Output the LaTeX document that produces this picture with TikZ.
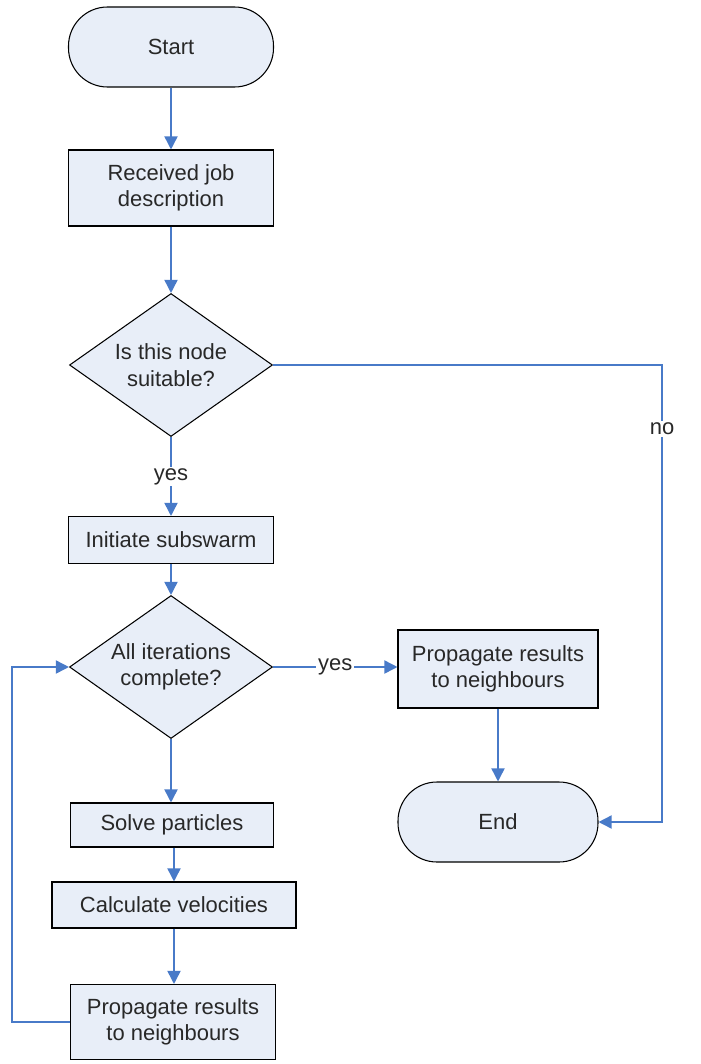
\documentclass[tikz,border=0pt]{standalone}
\usepackage{fontspec}
\setmainfont{Liberation Sans}
\usetikzlibrary{shapes.geometric,arrows.meta}

\definecolor{flowblue}{RGB}{72,122,200}
\definecolor{boxfill}{RGB}{232,238,248}
\definecolor{textgray}{RGB}{40,40,40}

\tikzset{
    base/.style={draw=black, line width=0.6pt, fill=boxfill, text=textgray,
        align=center, font=\fontsize{12.5}{15}\selectfont, inner sep=0pt},
    terminal/.style={base, rectangle, rounded corners=0.78cm,
        minimum width=4.1cm, minimum height=1.6cm},
    process/.style={base, rectangle, minimum width=4.1cm},
    decision/.style={base, diamond, aspect=1.4,
        minimum width=4.06cm, minimum height=2.86cm},
    flow/.style={draw=flowblue, line width=0.9pt,
        -{Triangle[width=7.5pt,length=7.5pt]}},
    flowlabel/.style={fill=white, text=textgray, inner sep=1pt,
        font=\fontsize{12.5}{15}\selectfont}
}

\begin{document}
\begin{tikzpicture}
    \useasboundingbox (0,0) rectangle (14,-21.28);

    % Main column
    \node[terminal] (start) at (3.42,-0.94) {Start};
    \node[process, minimum height=1.52cm] (job) at (3.42,-3.76) {Received job\\description};
    \node[decision] (suit) at (3.42,-7.30) {Is this node\\suitable?};
    \node[process, minimum height=0.94cm] (init) at (3.42,-10.80) {Initiate subswarm};
    \node[decision] (iter) at (3.42,-13.34) {All iterations\\complete?};
    \node[process, minimum width=4.06cm, minimum height=0.88cm] (solve) at (3.44,-16.50) {Solve particles};
    \node[process, minimum width=4.88cm, minimum height=0.92cm] (velo) at (3.48,-18.10) {Calculate velocities};
    \node[process, minimum height=1.5cm] (propL) at (3.46,-20.44) {Propagate results\\to neighbours};

    % Right column
    \node[process, minimum width=4.0cm, minimum height=1.56cm] (propR) at (9.96,-13.38) {Propagate results\\to neighbours};
    \node[terminal, minimum width=4.0cm] (end) at (9.96,-16.44) {End};

    % Corners of the routed lines
    \coordinate (noTop) at (13.24,-7.30);
    \coordinate (noBot) at (13.24,-16.44);
    \coordinate (loopBot) at (0.24,-20.44);
    \coordinate (loopTop) at (0.24,-13.34);

    % Connectors
    \draw[flow] (start) -- (job);
    \draw[flow] (job) -- (suit);
    \draw[flow] (suit) -- node[flowlabel] {yes} (init);
    \draw[flow] (init) -- (iter);
    \draw[flow] (iter) -- (iter |- solve.north);
    \draw[flow] (solve.south -| velo) -- (velo);
    \draw[flow] (velo) -- (velo |- propL.north);
    \draw[flow] (iter.east) -- node[flowlabel] {yes} (iter.east -| propR.west);
    \draw[flow] (propR) -- (end);
    \draw[flow] (suit.east) -- (noTop) -- node[flowlabel, pos=0.14] {no} (noBot) -- (end.east);
    \draw[flow] (propL.west) -- (loopBot) -- (loopTop) -- (iter.west);
\end{tikzpicture}
\end{document}
